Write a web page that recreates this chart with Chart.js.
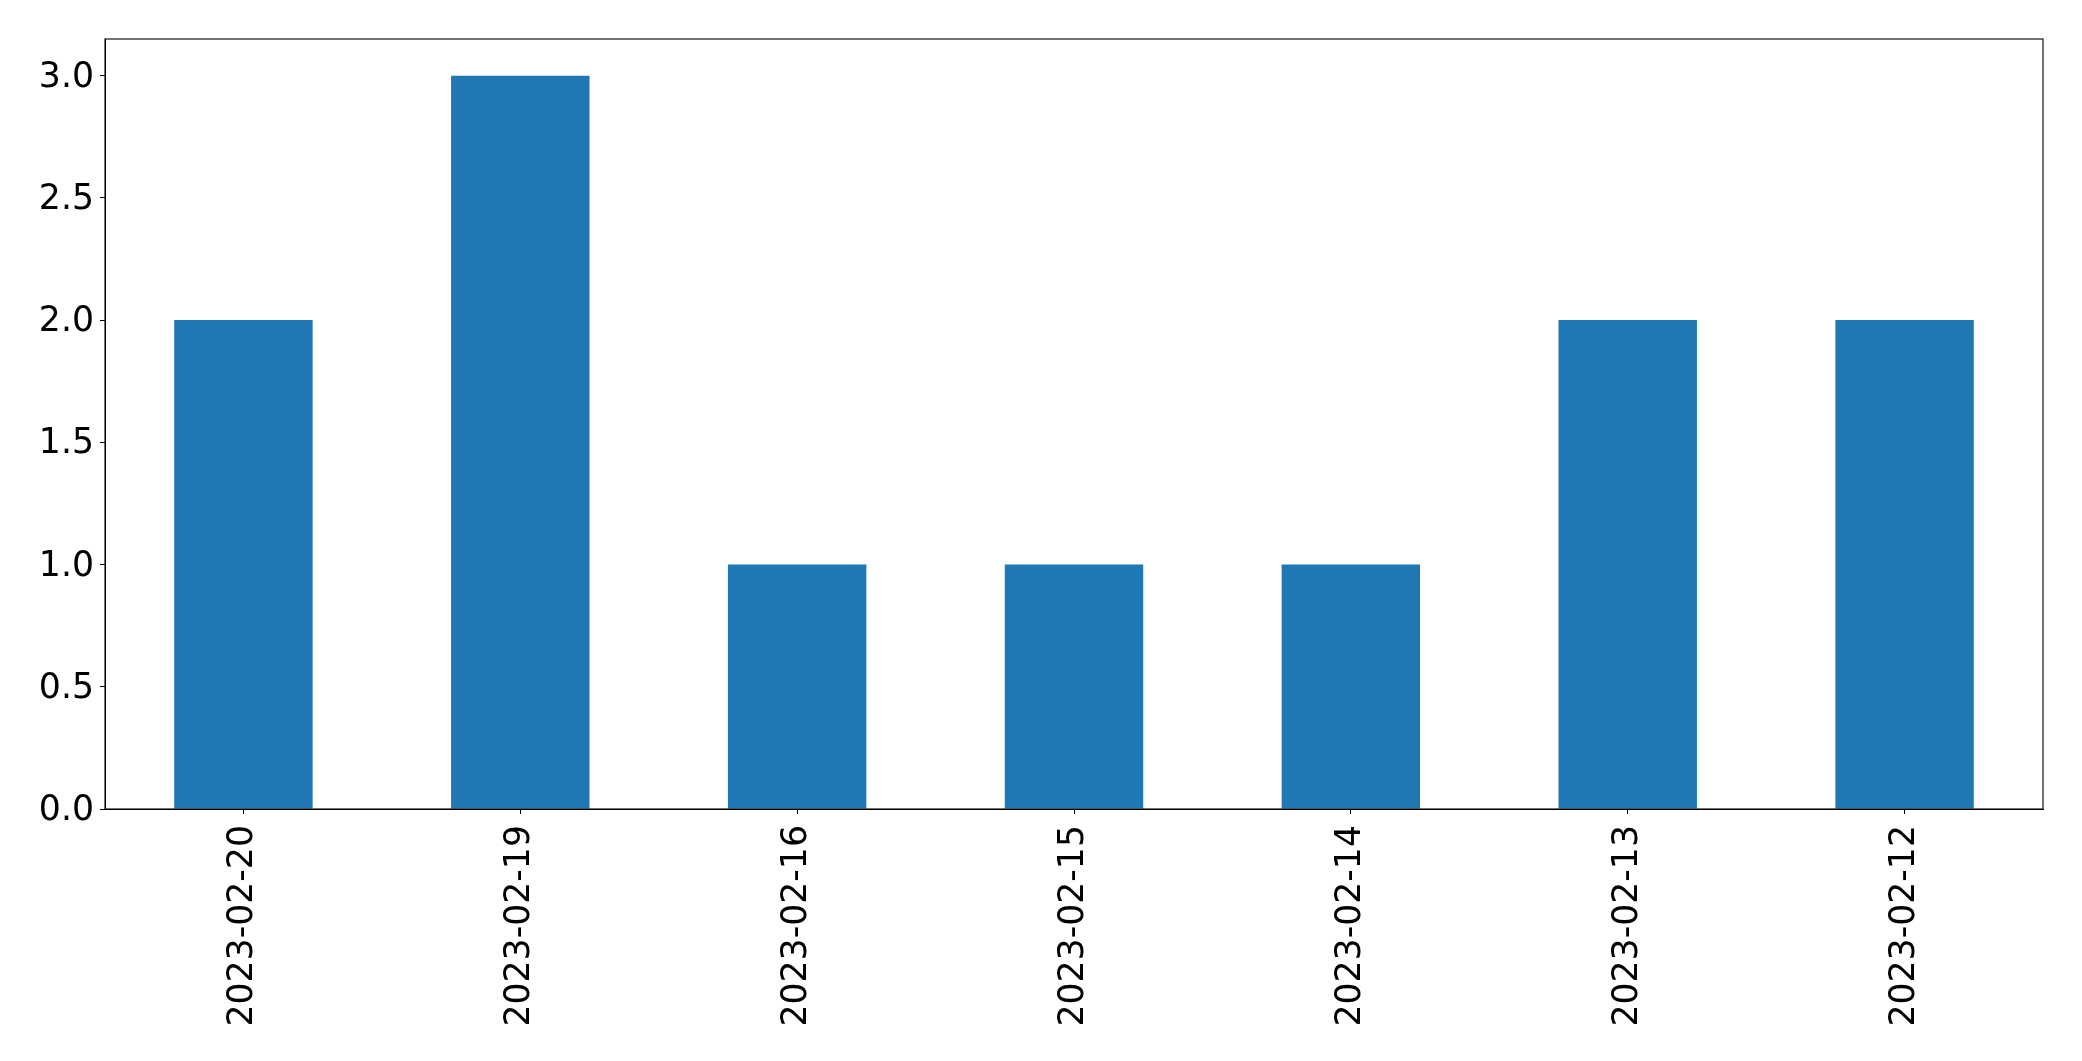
<!DOCTYPE html>
<html>
<head>
<meta charset="utf-8">
<script src="https://cdn.jsdelivr.net/npm/chart.js@4"></script>
<style>
  body { margin: 0; background: #fff; }
  #wrap { width: 2082px; height: 1061px; }
</style>
</head>
<body>
<div id="wrap"><canvas id="countChart"></canvas></div>
<script>
const dates = ['2023-02-20', '2023-02-19', '2023-02-16', '2023-02-15', '2023-02-14', '2023-02-13', '2023-02-12'];
const counts = [2, 3, 1, 1, 1, 2, 2];
const yTicks = [0, 0.5, 1.0, 1.5, 2.0, 2.5, 3.0];

const tickFont = { family: 'DejaVu Sans', size: 34.7 };

// full box around the plot, like matplotlib's spines
const frame = {
  id: 'frame',
  afterDraw(chart) {
    const a = chart.chartArea;
    const ctx = chart.ctx;
    ctx.save();
    ctx.strokeStyle = '#000';
    ctx.lineWidth = 1.1;
    ctx.strokeRect(a.left, a.top, a.right - a.left, a.bottom - a.top);
    ctx.restore();
  }
};

let countChart = new Chart(document.getElementById('countChart'), {
  type: 'bar',
  data: {
    labels: dates,
    datasets: [{
      data: counts,
      backgroundColor: '#1f77b4',
      borderWidth: 0,
      categoryPercentage: 0.5,
      barPercentage: 1.0
    }]
  },
  options: {
    responsive: true,
    maintainAspectRatio: false,
    animation: false,
    layout: { padding: { left: 0, top: 39, right: 39, bottom: 0 } },
    plugins: {
      legend: { display: false },
      tooltip: { enabled: false }
    },
    scales: {
      x: {
        grid: { drawOnChartArea: false, drawTicks: true, tickLength: 5, color: '#000', offset: false },
        border: { color: '#000', width: 1 },
        ticks: {
          color: '#000',
          font: tickFont,
          minRotation: 90,
          maxRotation: 90,
          padding: 11,
          autoSkip: false
        },
        afterFit(scale) { scale.height = 252; }
      },
      y: {
        min: 0,
        max: 3.15,
        grid: { drawOnChartArea: false, drawTicks: true, tickLength: 5, color: '#000' },
        border: { color: '#000', width: 1 },
        ticks: {
          color: '#000',
          font: tickFont,
          padding: 6,
          labelOffset: 2,
          callback: v => v.toFixed(1)
        },
        afterBuildTicks(scale) { scale.ticks = yTicks.map(v => ({ value: v })); },
        afterFit(scale) { scale.width = 105; }
      }
    }
  },
  plugins: [frame]
});
</script>
</body>
</html>
